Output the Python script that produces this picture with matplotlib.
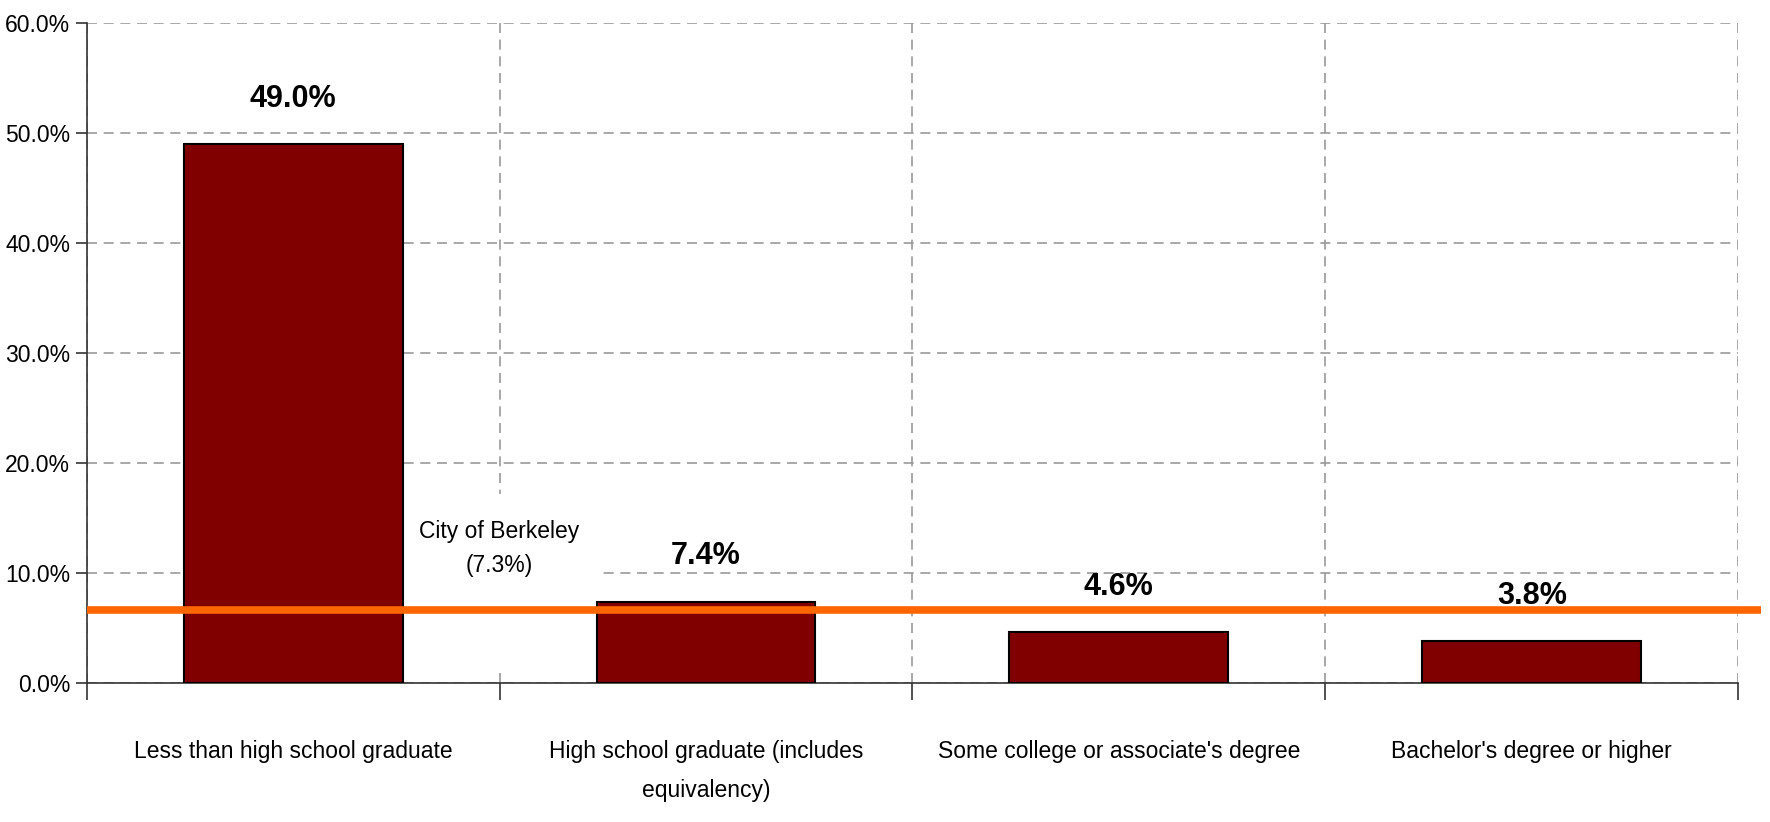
import matplotlib
matplotlib.use('Agg')
import matplotlib.pyplot as plt
from matplotlib.patches import Rectangle
from matplotlib.ticker import FuncFormatter

# datos
categorias = ['Less than high school graduate',
              'High school graduate (includes\nequivalency)',
              "Some college or associate's degree",
              "Bachelor's degree or higher"]
tasas = [49.0, 7.4, 4.6, 3.8]
berkeley_texto = 'City of Berkeley\n(7.3%)'
berkeley_linea = 6.6   # altura a la que esta dibujada la linea naranja

plt.rcParams['font.family'] = ['Liberation Sans Narrow', 'Liberation Sans', 'DejaVu Sans']

fig = plt.figure(figsize=(17.7, 8.22), dpi=100)
ax = fig.add_axes([0.049, 0.169, 0.933, 0.8035])

ancho = 0.53
x = list(range(len(categorias)))
ax.bar(x, tasas, width=ancho, color='#800000', edgecolor='black', linewidth=1.5, zorder=3)

for xi, v in zip(x, tasas):
    ax.text(xi, v + 4.1, f'{v:.1f}%', ha='center', va='center',
            fontsize=22, fontweight='bold', zorder=4)

# caja blanca detras del texto de Berkeley (tapa la cuadricula)
ax.add_patch(Rectangle((ancho / 2, 1.5), 1 - ancho, 15.7, facecolor='white',
                       edgecolor='none', zorder=1))
ax.text(0.5, 12.2, berkeley_texto, ha='center', va='center', fontsize=16.5,
        linespacing=1.6, zorder=2)

ax.plot([-0.5, 3.555], [berkeley_linea, berkeley_linea], color='#ff6600',
        linewidth=5.5, solid_capstyle='butt', clip_on=False, zorder=5)

ax.set_xlim(-0.5, 3.5)
ax.set_ylim(0, 60)
ax.set_yticks(range(0, 61, 10))
ax.yaxis.set_major_formatter(FuncFormatter(lambda v, p: f'{v:.1f}%'))

# etiquetas de categoria en el centro, marcas en los limites
ax.set_xticks(x)
ax.set_xticklabels(categorias, fontsize=16.5, linespacing=1.9)
ax.tick_params(axis='x', which='major', length=0, pad=41)
ax.set_xticks([-0.5, 0.5, 1.5, 2.5, 3.5], minor=True)
ax.tick_params(axis='x', which='minor', length=12, width=1.2, color='#333333')
ax.tick_params(axis='y', labelsize=16.5, length=8, width=1.2, color='#333333', pad=4)

ax.grid(True, axis='y', linestyle=(0, (6, 4)), color='#999999', linewidth=1.2, zorder=0)
ax.grid(True, axis='x', which='minor', linestyle=(0, (6, 4)), color='#999999', linewidth=1.2, zorder=0)
ax.set_axisbelow(True)

ax.spines['top'].set_visible(False)
ax.spines['right'].set_visible(False)
ax.spines['left'].set_color('#333333')
ax.spines['bottom'].set_color('#333333')
ax.spines['left'].set_linewidth(1.2)
ax.spines['bottom'].set_linewidth(1.2)

fig.savefig('out.png', dpi=100)
